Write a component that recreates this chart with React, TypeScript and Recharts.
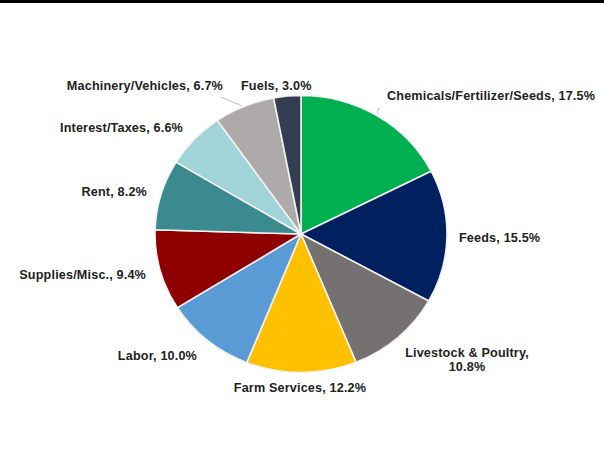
import { PieChart, Pie, Cell } from "recharts";

const categories = [
  "Chemicals/Fertilizer/Seeds",
  "Feeds",
  "Livestock & Poultry",
  "Farm Services",
  "Labor",
  "Supplies/Misc.",
  "Rent",
  "Interest/Taxes",
  "Machinery/Vehicles",
  "Fuels",
];
const shares = [17.5, 15.5, 10.8, 12.2, 10.0, 9.4, 8.2, 6.6, 6.7, 3.0];
const colors = [
  "#00b050",
  "#002060",
  "#767171",
  "#ffc000",
  "#5b9bd5",
  "#8e0000",
  "#3b8a8f",
  "#a0d4d8",
  "#aeaaaa",
  "#333f50",
];

// where each label sits on the page: [x, y, anchor]
const labelSpots: [number, number, "start" | "middle" | "end"][] = [
  [387, 96, "start"],
  [459, 238, "start"],
  [467, 353, "middle"],
  [300, 388, "middle"],
  [197, 356, "end"],
  [146, 275, "end"],
  [147, 192, "end"],
  [183, 128, "end"],
  [223, 86, "end"],
  [241, 86, "start"],
];

const data = categories.map((name, i) => ({ name, value: shares[i] }));

// the source image is stretched sideways a little
const SX = 1.054;
const CX = 301;
const CY = 234;
const toChartX = (x: number) => CX + (x - CX) / SX;

const textStyle = {
  fontFamily: "'Liberation Sans', Arial, sans-serif",
  fontWeight: 700,
  fontSize: 12,
  letterSpacing: 0.15,
  fill: "#222",
};

function renderLabel(props: any) {
  const i = props.index as number;
  const [x, y, anchor] = labelSpots[i];
  const tx = toChartX(x);
  const pct = `${shares[i].toFixed(1)}%`;
  if (i === 2) {
    return (
      <text key={i} x={tx} y={y} textAnchor={anchor} dominantBaseline="central" style={textStyle}>
        <tspan x={tx} dy={0}>{`${categories[i]},`}</tspan>
        <tspan x={tx} dy={14}>{pct}</tspan>
      </text>
    );
  }
  return (
    <g key={i}>
      {i === 8 && (
        <line x1={toChartX(221)} y1={97} x2={toChartX(242)} y2={106} stroke="#c8c8c8" strokeWidth={1} />
      )}
      {i === 0 && (
        <path
          d={`M${toChartX(380)},108 Q${toChartX(376)},110 ${toChartX(378)},114`}
          stroke="#c8c8c8"
          fill="none"
          strokeWidth={1}
        />
      )}
      <text x={tx} y={y} textAnchor={anchor} dominantBaseline="central" style={textStyle}>
        {`${categories[i]}, ${pct}`}
      </text>
    </g>
  );
}

export default function App() {
  return (
    <div style={{ position: "absolute", left: 0, top: 0, width: 604, height: 468, background: "#fff", overflow: "hidden" }}>
      <div style={{ position: "absolute", left: 0, top: 0, width: 604, height: 3, background: "#000" }} />
      <div
        style={{
          position: "absolute",
          left: 0,
          top: 0,
          transform: `scaleX(${SX})`,
          transformOrigin: `${CX}px 0px`,
        }}
      >
        <PieChart width={604} height={468} margin={{ top: 0, right: 0, bottom: 0, left: 0 }}>
          <Pie
            data={data}
            dataKey="value"
            nameKey="name"
            cx={CX}
            cy={CY}
            outerRadius={138.5}
            startAngle={90}
            endAngle={-270}
            stroke="#f2f2f2"
            strokeWidth={1.5}
            label={renderLabel}
            labelLine={false}
            isAnimationActive={false}
          >
            {data.map((d, i) => (
              <Cell key={d.name} fill={colors[i]} />
            ))}
          </Pie>
        </PieChart>
      </div>
    </div>
  );
}
